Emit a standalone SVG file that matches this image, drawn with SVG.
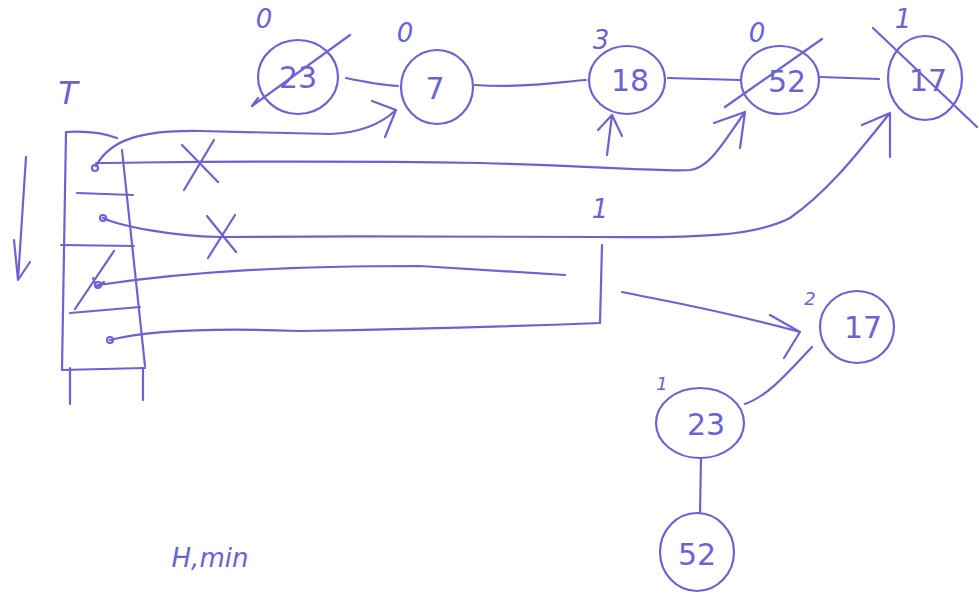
<svg xmlns="http://www.w3.org/2000/svg" width="979" height="602" viewBox="0 0 979 602">
<style>
.s{fill:none;stroke:#6b63d2;stroke-width:2.2;stroke-linecap:round;stroke-linejoin:round}
.n{fill:#fff;stroke:#6b63d2;stroke-width:2.2}
.t{font-family:"DejaVu Sans","Liberation Sans",sans-serif;fill:#6b63d2;font-size:30px;text-anchor:middle}
.l{font-family:"DejaVu Sans","Liberation Sans",sans-serif;fill:#6b63d2;font-size:26px;text-anchor:middle;font-style:italic}
.sm{font-size:18px}
</style>
<rect width="979" height="602" fill="#fff"/>

<g id="table">
  <text class="l" x="68" y="104" style="font-size:32px">T</text>
  <path class="s" d="M26,157 L18,280 M14,240 L18,280 L30,262"/>
  <path class="s" d="M117,138 Q95,130 66,132 L62,370 L145,368 M122,150 L145,366"/>
  <path class="s" d="M70,368 L70,404 M143,368 L143,400"/>
  <path class="s" d="M77,193 L133,195 M61,245 L134,246 M70,313 L140,307"/>
  <circle class="s" cx="95" cy="168" r="3"/>
  <circle class="s" cx="103" cy="218" r="3"/>
  <circle class="s" cx="98" cy="285" r="3"/>
  <circle class="s" cx="110" cy="340" r="3"/>
  <path class="s" d="M114,251 L75,309 M93,278 L96,287 L104,282"/>
  <path class="s" d="M182,145 L218,182 M214,140 L184,190"/>
  <path class="s" d="M207,216 L236,252 M235,215 L208,258"/>
</g>

<g id="connectors">
  <path class="s" d="M96,166 C110,140 140,130 200,131 L330,134 C360,133 380,125 396,110 M372,101 L396,110 L385,137"/>
  <path class="s" d="M96,163 C200,162 300,160 480,163 C600,166 660,172 690,170 C710,168 725,140 745,112 M714,123 L745,112 L740,148"/>
  <path class="s" d="M103,218 C120,226 170,236 220,237 C350,236 450,236 600,237 C700,238 755,236 790,218 C830,190 860,150 890,113 M862,125 L890,113 L890,157"/>
  <path class="s" d="M98,285 C200,270 300,266 420,266 L565,275"/>
  <path class="s" d="M110,340 C150,330 220,328 300,331 C420,329 520,326 600,323 L602,245"/>
  <path class="s" d="M622,292 C660,300 720,310 800,332 M770,315 L800,332 L784,358"/>
  <path class="s" d="M346,78 C365,82 380,85 398,86"/>
  <path class="s" d="M475,85 C520,88 550,83 586,80"/>
  <path class="s" d="M668,78 L740,80"/>
  <path class="s" d="M820,77 L879,79"/>
  <path class="s" d="M812,347 C790,370 770,395 745,404"/>
  <path class="s" d="M701,457 L700,516"/>
</g>

<g id="n23">
  <text class="l" x="264" y="28">0</text>
  <ellipse class="n" cx="298" cy="77" rx="40" ry="37"/>
  <text class="t" x="298" y="88">23</text>
  <path class="s" d="M350,35 L252,106 M252,106 L258,98"/>
</g>
<g id="n7">
  <text class="l" x="405" y="42">0</text>
  <ellipse class="n" cx="437" cy="87" rx="36" ry="37"/>
  <text class="t" x="435" y="99">7</text>
</g>
<g id="n18">
  <text class="l" x="601" y="49">3</text>
  <ellipse class="n" cx="627" cy="80" rx="38" ry="34"/>
  <text class="t" x="630" y="91">18</text>
  <path class="s" d="M607,155 L612,115 M598,130 L612,115 L622,136"/>
</g>
<g id="n32">
  <text class="l" x="757" y="42">0</text>
  <ellipse class="n" cx="780" cy="80" rx="39" ry="34"/>
  <text class="t" x="787" y="92">52</text>
  <path class="s" d="M725,107 L822,39"/>
</g>
<g id="n17a">
  <text class="l" x="903" y="28">1</text>
  <ellipse class="n" cx="925" cy="78" rx="37" ry="42"/>
  <text class="t" x="928" y="91">17</text>
  <path class="s" d="M873,28 L977,127"/>
</g>
<g id="lbl1">
  <text class="l" x="600" y="218">1</text>
</g>
<g id="n17b">
  <text class="l sm" x="810" y="305">2</text>
  <ellipse class="n" cx="857" cy="327" rx="37" ry="36"/>
  <text class="t" x="863" y="338">17</text>
</g>
<g id="n23b">
  <text class="l sm" x="662" y="390">1</text>
  <ellipse class="n" cx="700" cy="423" rx="44" ry="35"/>
  <text class="t" x="706" y="435">23</text>
</g>
<g id="n52">
  <ellipse class="n" cx="697" cy="552" rx="37" ry="39"/>
  <text class="t" x="697" y="565">52</text>
</g>
<text class="l" x="210" y="567">H,min</text>
</svg>
